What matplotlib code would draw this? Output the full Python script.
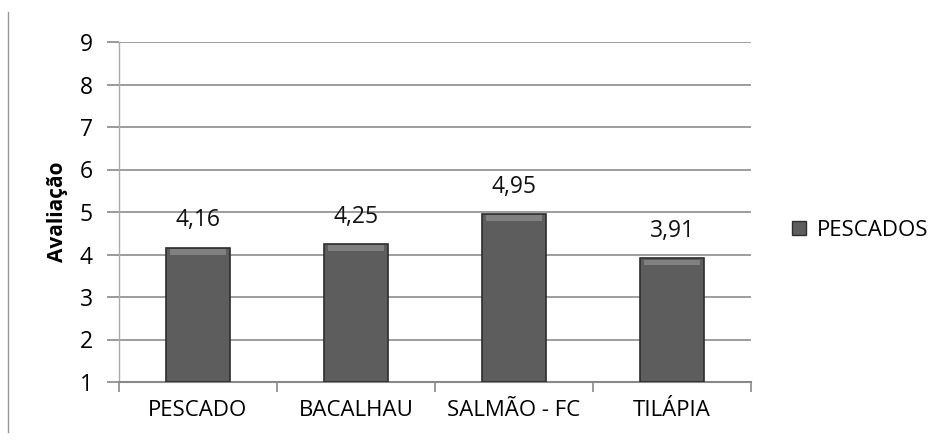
import numpy as np
import matplotlib.pyplot as plt
from matplotlib.lines import Line2D

categorias = ["PESCADO", "BACALHAU", "SALMÃO - FC", "TILÁPIA"]
valores = [4.16, 4.25, 4.95, 3.91]
rotulos = ["4,16", "4,25", "4,95", "3,91"]
serie = "PESCADOS"
yticks = [1, 2, 3, 4, 5, 6, 7, 8, 9]

plt.rcParams['font.family'] = ['Open Sans', 'DejaVu Sans']

fig = plt.figure(figsize=(9.34, 4.41), dpi=100)
ax = fig.add_axes([119 / 934, 1 - 382 / 441, 632 / 934, 340 / 441])

x = np.arange(len(categorias))
base = 1
bars = ax.bar(x, np.array(valores) - base, bottom=base, width=0.405,
              color='#5d5d5d', edgecolor='#2e2e2e', linewidth=1.2, zorder=3)

# bisel claro no topo de cada barra
for b in bars:
    bx, bw = b.get_x(), b.get_width()
    top = b.get_y() + b.get_height()
    ax.fill_between([bx + 0.025, bx + bw - 0.025], top - 0.16, top - 0.03,
                    color='#808080', zorder=4, linewidth=0)

for xi, v, r in zip(x, valores, rotulos):
    ax.annotate(r, (xi, v), xytext=(0, 11), textcoords='offset points',
                ha='center', va='bottom', fontsize=16.5, color='#111111')

ax.set_xlim(-0.5, len(categorias) - 0.5)
ax.set_ylim(1, 9)
ax.set_yticks(yticks)
ax.set_yticklabels([str(t) for t in yticks], fontsize=16.5)
ax.set_xticks(x)
ax.set_xticklabels(categorias, fontsize=16)
ax.tick_params(axis='x', length=0, pad=13)
ax.tick_params(axis='y', length=9, color='#888888', width=1.2, pad=10)

# marcas de separacao das categorias
ax.set_xticks(np.arange(len(categorias) + 1) - 0.5, minor=True)
ax.tick_params(axis='x', which='minor', length=7, color='#888888', width=1.2)

ax.yaxis.grid(True, color='#8c8c8c', linewidth=1.2, zorder=0)
for s in ['top', 'right']:
    ax.spines[s].set_visible(False)
ax.spines['bottom'].set_color('#888888')
ax.spines['bottom'].set_linewidth(1.5)
ax.spines['left'].set_color('#aaaaaa')
ax.spines['left'].set_linewidth(1)

ax.set_ylabel("Avaliação", fontsize=15, fontweight='bold', labelpad=8)

# legenda
handle = Line2D([], [], marker='s', linestyle='none', markersize=10,
                markerfacecolor='#5d5d5d', markeredgecolor='#2e2e2e')
fig.legend([handle], [serie], loc='center left', bbox_to_anchor=(790 / 934, 1 - 230 / 441),
           frameon=False, fontsize=16, handlelength=0.8, handletextpad=0.4,
           borderaxespad=0, borderpad=0)

# linha de borda a esquerda
fig.add_artist(Line2D([8 / 934, 8 / 934], [1 - 12 / 441, 1 - 432 / 441],
                      color='#999999', linewidth=1, transform=fig.transFigure))

fig.savefig("out.png", dpi=100)
